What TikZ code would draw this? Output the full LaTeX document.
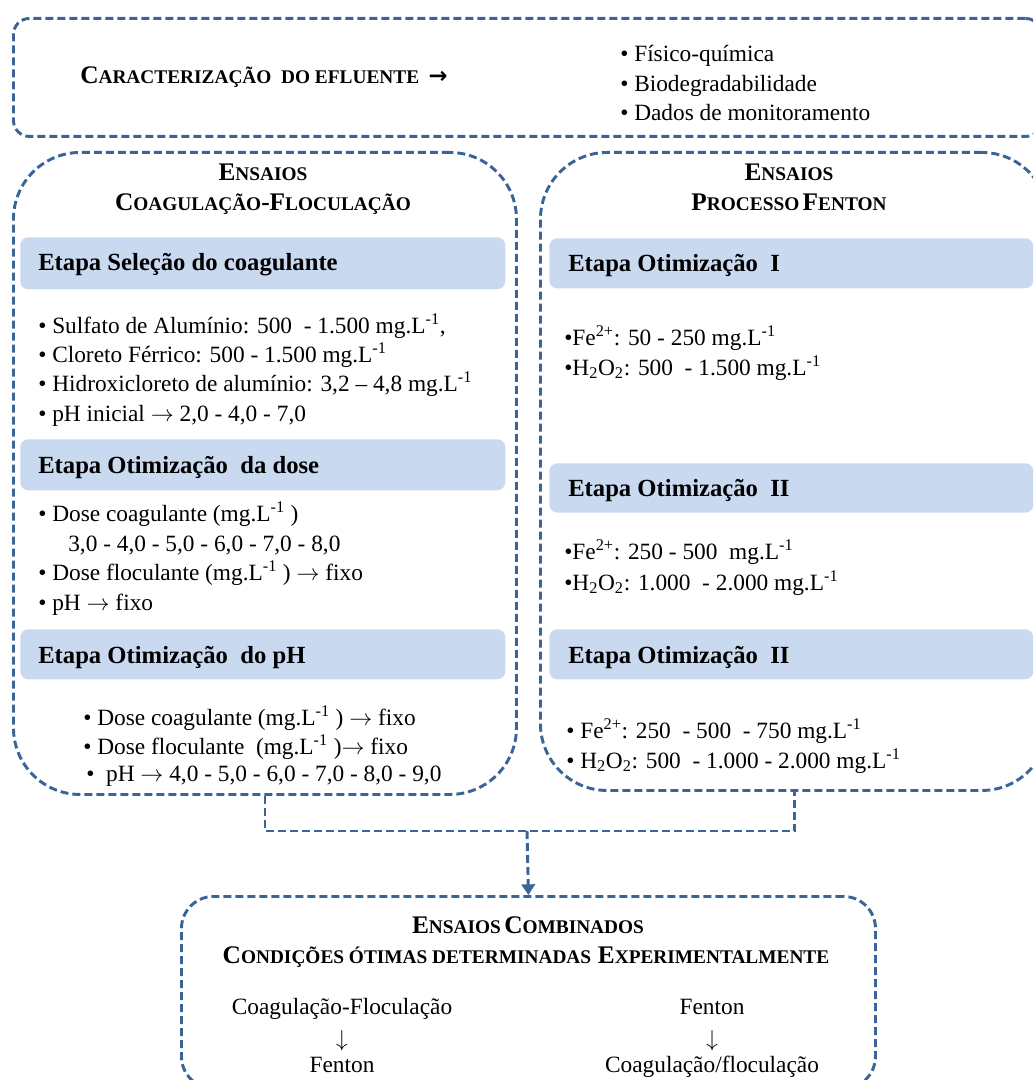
\documentclass[tikz,border=0pt]{standalone}
\usepackage{fontspec}
\setmainfont{Liberation Serif}
\newfontfamily\djv{DejaVu Sans}
\usetikzlibrary{arrows.meta}
\definecolor{lnc}{HTML}{3A6496}
\definecolor{bandc}{HTML}{C9DAF0}
\newcommand\scB[1]{{\fontsize{19}{21}\selectfont #1}}
\newcommand\scS[1]{{\fontsize{14.5}{17}\selectfont #1}}
\newcommand\ML{mg.L\textsuperscript{-1}}
\newcommand\rar{$\rightarrow$}
\newcommand\dar{$\downarrow$}
\begin{document}
\begin{tikzpicture}[x=0.75pt,y=-0.75pt,
  dbox/.style={draw=lnc, line width=2.2pt, dash pattern=on 6pt off 3pt, inner sep=0pt, anchor=north west},
  bandbox/.style={fill=bandc, rounded corners=6pt, inner sep=0pt, anchor=north west, draw=none},
  txt/.style={anchor=base west, inner sep=0pt, font=\fontsize{17.5}{21}\selectfont},
  hdr/.style={anchor=base west, inner sep=0pt, font=\fontsize{18.5}{21}\selectfont\bfseries},
  ctxt/.style={anchor=base, inner sep=0pt, font=\fontsize{17.5}{21}\selectfont},
  ttl/.style={anchor=base, inner sep=0pt, font=\bfseries},
  conn/.style={draw=lnc, line width=2.2pt, dash pattern=on 6pt off 3pt}
]
\useasboundingbox (0,0) rectangle (1033,1080);
\clip (0,0) rectangle (1033,1080);

% ---------- top box ----------
\node[dbox, rounded corners=12pt, minimum width=771pt, minimum height=88.5pt] (top) at (12,17) {};
\node[ttl, anchor=base west] (carac) at (80,84) {\scB{C}\scS{ARACTERIZAÇÃO\ \ DO EFLUENTE}\hspace{7pt}{\djv\bfseries\fontsize{17}{20}\selectfont →}};
\node[txt] (t1) at (620,62) {• Físico-química};
\node[txt] (t2) at (620,92) {• Biodegradabilidade};
\node[txt] (t3) at (620,121) {• Dados de monitoramento};

% ---------- left box ----------
\node[dbox, rounded corners=50pt, minimum width=377.25pt, minimum height=481.5pt] (L) at (12,151) {};
\node[ttl] (Lt1) at (263,181) {\scB{E}\scS{NSAIOS}};
\node[ttl] (Lt2) at (263,211) {\scB{C}\scS{OAGULAÇÃO}\scB{-F}\scS{LOCULAÇÃO}};

\node[bandbox, minimum width=363.75pt, minimum height=39pt] (LB1) at (20,237) {};
\node[hdr] (LH1) at (38,271) {Etapa Seleção do coagulante};
\node[txt] (L11) at (38,333) {• Sulfato de Alumínio: 500 \ - 1.500 \ML,};
\node[txt] (L12) at (38,362) {• Cloreto Férrico: 500 - 1.500 \ML};
\node[txt] (L13) at (38,391) {• Hidroxicloreto de alumínio: 3,2 – 4,8 \ML};
\node[txt] (L14) at (38,421) {• pH inicial \rar\ 2,0 - 4,0 - 7,0};

\node[bandbox, minimum width=363.75pt, minimum height=38.25pt] (LB2) at (20,439) {};
\node[hdr] (LH2) at (38,473) {Etapa Otimização\ \ da dose};
\node[txt] (L21) at (38,521) {• Dose coagulante (\ML\ )};
\node[txt] (L22) at (68,551) {3,0 - 4,0 - 5,0 - 6,0 - 7,0 - 8,0};
\node[txt] (L23) at (38,580) {• Dose floculante (\ML\ ) \rar\ fixo};
\node[txt] (L24) at (38,610) {• pH \rar\ fixo};

\node[bandbox, minimum width=363.75pt, minimum height=37.5pt] (LB3) at (20,629) {};
\node[hdr] (LH3) at (38,663) {Etapa Otimização\ \ do pH};
\node[txt] (L31) at (83,725) {• Dose coagulante (\ML\ ) \rar\ fixo};
\node[txt] (L32) at (83,754) {• Dose floculante\ \ (\ML\ )\rar\ fixo};
\node[txt] (L33) at (86,781) {•\ \ pH \rar\ 4,0 - 5,0 - 6,0 - 7,0 - 8,0 - 9,0};

% ---------- right box ----------
\node[dbox, rounded corners=50pt, minimum width=381pt, minimum height=478.5pt] (R) at (539,151) {};
\node[ttl] (Rt1) at (789,181) {\scB{E}\scS{NSAIOS}};
\node[ttl] (Rt2) at (789,211) {\scB{P}\scS{ROCESSO} \scB{F}\scS{ENTON}};

\node[bandbox, minimum width=363pt, minimum height=37.5pt] (RB1) at (549,238) {};
\node[hdr] (RH1) at (568,272) {Etapa Otimização\ \ I};
\node[txt] (R11) at (564,345) {•Fe\textsuperscript{2+}: 50 - 250 \ML};
\node[txt] (R12) at (564,375) {•H\textsubscript{2}O\textsubscript{2}: 500\ \ - 1.500 \ML};

\node[bandbox, minimum width=363pt, minimum height=37pt] (RB2) at (549,463) {};
\node[hdr] (RH2) at (568,496) {Etapa Otimização\ \ II};
\node[txt] (R21) at (564,559) {•Fe\textsuperscript{2+}: 250 - 500\ \ \ML};
\node[txt] (R22) at (564,590) {•H\textsubscript{2}O\textsubscript{2}: 1.000\ \ - 2.000 \ML};

\node[bandbox, minimum width=363pt, minimum height=37.5pt] (RB3) at (549,629) {};
\node[hdr] (RH3) at (568,663) {Etapa Otimização\ \ II};
\node[txt] (R31) at (566,738) {• Fe\textsuperscript{2+}: 250\ \ - 500\ \ - 750 \ML};
\node[txt] (R32) at (566,768) {• H\textsubscript{2}O\textsubscript{2}: 500\ \ - 1.000 - 2.000 \ML};

% ---------- bottom box ----------
\node[dbox, rounded corners=24pt, minimum width=520.5pt, minimum height=144pt] (B) at (180,895) {};
\node[ttl] (Bt1) at (528,933) {\scB{E}\scS{NSAIOS} \scB{C}\scS{OMBINADOS}};
\node[ttl] (Bt2) at (526,963) {\scB{C}\scS{ONDIÇÕES ÓTIMAS DETERMINADAS}\ \ \scB{E}\scS{XPERIMENTALMENTE}};
\node[ctxt] (Ba1) at (342,1014) {Coagulação-Floculação};
\node[ctxt] (Ba2) at (342,1046) {\dar};
\node[ctxt] (Ba3) at (342,1072) {Fenton};
\node[ctxt] (Bb1) at (712,1014) {Fenton};
\node[ctxt] (Bb2) at (712,1046) {\dar};
\node[ctxt] (Bb3) at (712,1072) {Coagulação/floculação};

% ---------- connectors ----------
\coordinate (J) at (527,831);
\draw[conn] (L.south) |- (J) -| (R.south);
\draw[conn, -{Triangle[width=10pt,length=8pt]}] (J) -- (B.north);
\end{tikzpicture}
\end{document}
